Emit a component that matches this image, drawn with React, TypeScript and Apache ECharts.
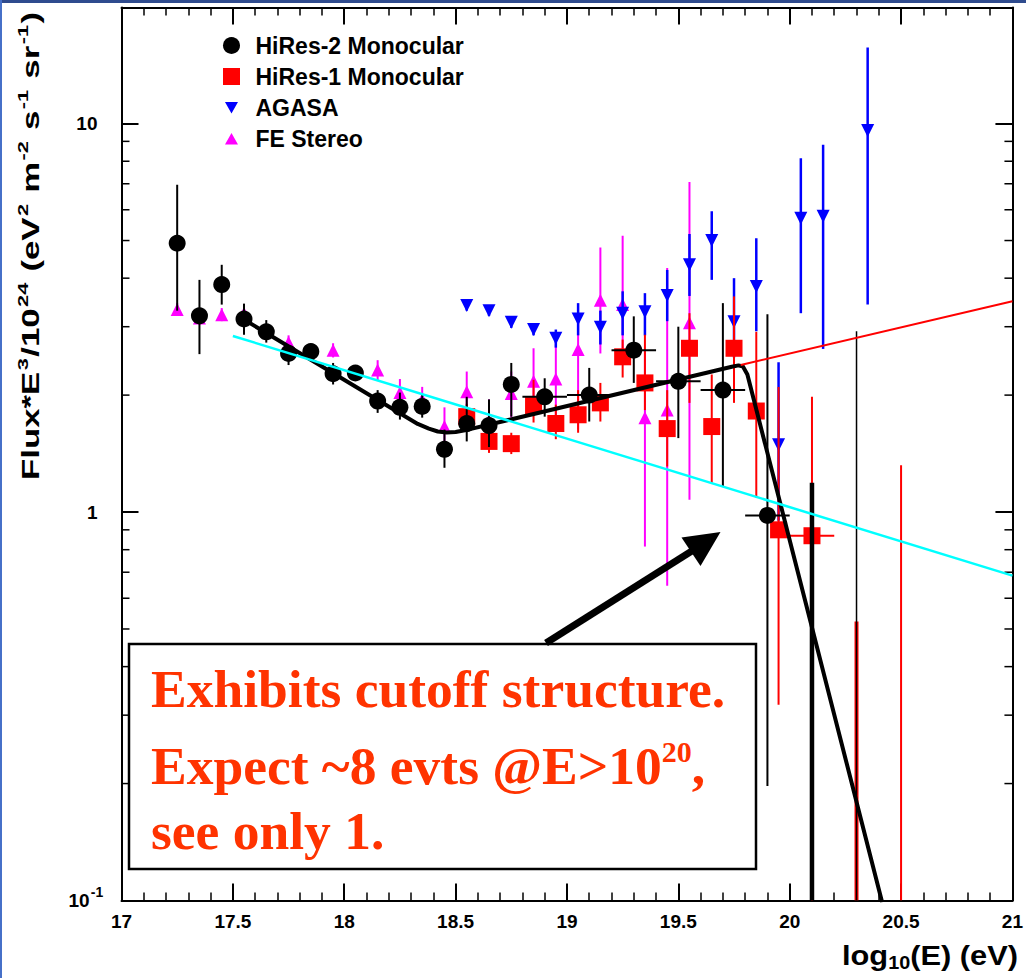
import React, { useEffect, useRef } from "react";
import * as echarts from "echarts";

// ---- data: [log10(E), flux, lowEdge, highEdge, (binLow, binHigh)] ----
const hires2Points: number[][] = [
  [17.25, 4.92, 3.3, 6.96],
  [17.35, 3.2, 2.55, 3.96],
  [17.45, 3.85, 3.42, 4.33],
  [17.55, 3.14, 2.86, 3.44],
  [17.65, 2.91, 2.73, 3.12],
  [17.75, 2.56, 2.39, 2.68],
  [17.85, 2.59, 2.5, 2.68],
  [17.95, 2.27, 2.13, 2.42],
  [18.05, 2.28, 2.19, 2.38],
  [18.15, 1.93, 1.8, 2.06],
  [18.25, 1.86, 1.73, 2.03],
  [18.35, 1.87, 1.75, 2.0],
  [18.45, 1.45, 1.3, 1.63],
  [18.55, 1.69, 1.52, 1.98],
  [18.65, 1.67, 1.47, 1.95],
  [18.75, 2.13, 1.76, 2.42],
  [18.9, 1.98, 1.76, 2.21, 18.8, 19.0],
  [19.1, 2.0, 1.71, 2.35, 19.0, 19.2],
  [19.3, 2.61, 2.15, 3.19, 19.2, 19.4],
  [19.5, 2.17, 1.55, 3.0, 19.4, 19.6],
  [19.7, 2.06, 1.16, 3.45, 19.6, 19.8],
  [19.9, 0.98, 0.197, 3.23, 19.8, 20.0],
];
// bins without a visible marker: [log10(E), highEdge]
const hires2Bars: number[][] = [
  [20.1, 1.19],
  [20.3, 2.92],
];

const hires1Points: number[][] = [
  [18.55, 1.76, 1.64, 1.9],
  [18.65, 1.52, 1.42, 1.6],
  [18.75, 1.5, 1.41, 1.6],
  [18.85, 1.88, 1.7, 2.19],
  [18.95, 1.69, 1.54, 1.89],
  [19.05, 1.78, 1.6, 2.06],
  [19.15, 1.91, 1.71, 2.15],
  [19.25, 2.51, 2.22, 2.78],
  [19.35, 2.15, 1.83, 2.86],
  [19.45, 1.64, 1.31, 2.06],
  [19.55, 2.64, 1.91, 3.25],
  [19.65, 1.66, 1.19, 2.26],
  [19.75, 2.64, 1.91, 3.59],
  [19.85, 1.82, 1.09, 2.91],
  [19.95, 0.9, 0.319, 2.1],
  [20.1, 0.869, 0.1, 1.98, 20.0, 20.2],
];
const hires1Bars: number[][] = [
  [20.3, 0.523],
  [20.5, 1.32],
];

const agasaPoints: number[][] = [
  [18.55, 3.4, 3.3, 3.5],
  [18.65, 3.3, 3.2, 3.4],
  [18.75, 3.08, 2.98, 3.18],
  [18.85, 2.95, 2.85, 3.05],
  [18.95, 2.8, 2.65, 2.95],
  [19.05, 3.14, 2.85, 3.45],
  [19.15, 2.99, 2.7, 3.3],
  [19.25, 3.25, 2.85, 3.7],
  [19.35, 3.28, 2.85, 3.66],
  [19.45, 3.61, 3.1, 4.2],
  [19.55, 4.33, 3.6, 5.2],
  [19.65, 5.0, 3.96, 5.95],
  [19.75, 3.09, 2.5, 4.0],
  [19.85, 3.81, 2.92, 5.07],
  [19.95, 1.49, 0.95, 2.43],
  [20.05, 5.71, 3.25, 8.14],
  [20.15, 5.77, 2.63, 8.82],
  [20.35, 9.6, 3.42, 15.7],
];

const fePoints: number[][] = [
  [17.25, 3.32, 3.2, 3.45],
  [17.35, 3.16, 3.04, 3.28],
  [17.45, 3.22, 3.1, 3.35],
  [17.55, 3.25, 3.12, 3.38],
  [17.75, 2.73, 2.62, 2.85],
  [17.95, 2.61, 2.5, 2.72],
  [18.15, 2.32, 2.18, 2.46],
  [18.25, 2.03, 1.88, 2.2],
  [18.35, 1.95, 1.8, 2.1],
  [18.45, 1.66, 1.45, 1.86],
  [18.55, 2.04, 1.8, 2.3],
  [18.65, 1.72, 1.5, 1.95],
  [18.75, 2.02, 1.75, 2.3],
  [18.85, 2.17, 1.91, 2.64],
  [18.95, 2.2, 1.66, 2.86],
  [19.05, 2.62, 1.63, 3.17],
  [19.15, 3.51, 2.56, 4.8],
  [19.25, 3.42, 2.6, 5.14],
  [19.35, 1.75, 0.815, 2.6],
  [19.45, 1.83, 0.646, 4.25],
  [19.55, 3.07, 1.075, 7.07],
];

// fitted curves: [log10(E), flux]
const fitBrokenPowerLaw: number[][] = [
  [17.55, 3.13], [18.33, 1.686], [18.38, 1.64], [18.42, 1.612], [18.46, 1.603],
  [18.5, 1.608], [18.56, 1.632], [19.74, 2.366], [19.77, 2.385], [19.79, 2.37],
  [19.81, 2.26], [20.415, 0.099],
];
const fitSinglePowerLaw: number[][] = [[17.5, 2.84], [21, 0.686]];
const fitExtrapolation: number[][] = [[19.78, 2.39], [21, 3.49]];

const legendNames = ["HiRes-2 Monocular", "HiRes-1 Monocular", "AGASA", "FE Stereo"];
const xRange = [17, 21];
const yRange = [0.1, 19.9];
const yMinorMultipliers = [2, 3, 4, 5, 6, 7, 8, 9];
const yDecades = [-1, 0, 1];

const SANS = "'Liberation Sans', Arial, sans-serif";
const SERIF = "'Liberation Serif', 'Times New Roman', serif";
const ANNOT = "#ff3300";

const squareIcon = "path://M0,0 L17,0 L17,17 L0,17 Z";
const downIcon = "path://M0,0h0.01v0.01z M17,17h0.01v0.01z M2,3 L15,3 L8.5,14.5 Z";
const upIcon = "path://M0,0h0.01v0.01z M17,17h0.01v0.01z M2,14.5 L15,14.5 L8.5,3 Z";

function withBins(rows: number[][]) {
  return rows.map((r) => [r[0], r[1], r[2], r[3], r.length > 4 ? r[4] : r[0], r.length > 5 ? r[5] : r[0]]);
}

function errRender(color: string, width: number) {
  return (params: any, api: any) => {
    const x = api.value(0), y = api.value(1), lo = api.value(2), hi = api.value(3);
    const xl = api.value(4), xh = api.value(5);
    const a = api.coord([x, lo]);
    const b = api.coord([x, hi]);
    const children: any[] = [
      { type: "line", shape: { x1: a[0], y1: a[1], x2: b[0], y2: b[1] }, style: { stroke: color, lineWidth: width } },
    ];
    if (xh > xl) {
      const c = api.coord([xl, y]);
      const d = api.coord([xh, y]);
      children.push({ type: "line", shape: { x1: c[0], y1: c[1], x2: d[0], y2: d[1] }, style: { stroke: color, lineWidth: width } });
    }
    return { type: "group", children };
  };
}

function barOnlyRender(color: string, widthFor: (i: number) => number) {
  return (params: any, api: any) => {
    const x = api.value(0), hi = api.value(1);
    const a = api.coord([x, yRange[0]]);
    const b = api.coord([x, hi]);
    return {
      type: "line",
      shape: { x1: a[0], y1: a[1], x2: b[0], y2: b[1] },
      style: { stroke: color, lineWidth: widthFor(params.dataIndex) },
    };
  };
}

function errSeries(name: string, rows: number[][], color: string, width: number, z: number) {
  return {
    type: "custom",
    name,
    data: withBins(rows),
    encode: { x: 0, y: 1 },
    renderItem: errRender(color, width),
    clip: true,
    z,
    silent: true,
  };
}

function markerSeries(name: string, rows: number[][], color: string, symbol: string, size: number, z: number, rotate = 0) {
  return {
    type: "scatter",
    name,
    data: rows.map((r) => [r[0], r[1]]),
    symbol,
    symbolSize: size,
    symbolRotate: rotate,
    itemStyle: { color, opacity: 1 },
    z,
    silent: true,
  };
}

const minorTickData: number[][] = [];
yDecades.forEach((k) =>
  yMinorMultipliers.forEach((m) => {
    const v = m * Math.pow(10, k);
    if (v < yRange[1]) minorTickData.push([xRange[0], v]);
  })
);

function buildOption(): any {
  const axisLineStyle = { color: "#000", width: 2 };
  const xBase = {
    type: "value",
    min: xRange[0],
    max: xRange[1],
    interval: 0.5,
    axisLine: { show: true, onZero: false, lineStyle: axisLineStyle },
    axisTick: { show: true, inside: true, length: 17, lineStyle: { color: "#000", width: 2 } },
    minorTick: { show: true, splitNumber: 5, length: 8, lineStyle: { color: "#000", width: 1.5 } },
    splitLine: { show: false },
  };
  const yBase = {
    type: "log",
    logBase: 10,
    min: yRange[0],
    max: yRange[1],
    axisLine: { show: true, onZero: false, lineStyle: axisLineStyle },
    axisTick: { show: true, inside: true, length: 17, lineStyle: { color: "#000", width: 2 } },
    splitLine: { show: false },
  };
  return {
    animation: false,
    backgroundColor: "#ffffff",
    grid: { left: 121.5, right: 13.5, top: 7.5, bottom: 77.5, containLabel: false },
    legend: {
      orient: "vertical",
      left: 223,
      top: 34,
      padding: 0,
      itemWidth: 38,
      itemHeight: 17,
      itemGap: 8,
      selectedMode: false,
      textStyle: { fontSize: 23, fontWeight: "bold", fontFamily: SANS, color: "#000" },
      data: [
        { name: legendNames[0], icon: "circle" },
        { name: legendNames[1], icon: squareIcon },
        { name: legendNames[2], icon: downIcon },
        { name: legendNames[3], icon: upIcon },
      ],
    },
    xAxis: [
      {
        ...xBase,
        position: "bottom",
        axisLabel: {
          show: true,
          interval: 0,
          margin: 11,
          fontSize: 19,
          fontWeight: "bold",
          fontFamily: SANS,
          color: "#000",
          showMinLabel: true,
          showMaxLabel: true,
        },
      },
      { ...xBase, position: "top", axisLabel: { show: false } },
    ],
    yAxis: [
      {
        ...yBase,
        position: "left",
        axisLabel: {
          show: true,
          margin: 24,
          showMaxLabel: false,
          color: "#000",
          fontSize: 19,
          fontWeight: "bold",
          fontFamily: SANS,
          formatter: (v: number) => {
            const e = Math.round(Math.log10(v));
            if (e < 0) return "{b|10}{s|" + e + "}";
            return "{b|" + Math.round(v) + "}";
          },
          rich: {
            b: { fontSize: 19, fontWeight: "bold", fontFamily: SANS, color: "#000" },
            s: {
              fontSize: 14,
              fontWeight: "bold",
              fontFamily: SANS,
              color: "#000",
              width: 1,
              align: "left",
              padding: [0, 0, 18, 7],
            },
          },
        },
      },
      { ...yBase, position: "right", axisLabel: { show: false } },
    ],
    series: [
      {
        type: "custom",
        name: "y minor ticks",
        data: minorTickData,
        encode: { x: 0, y: 1 },
        silent: true,
        z: 1,
        renderItem: (params: any, api: any) => {
          const v = api.value(1);
          const l = api.coord([xRange[0], v]);
          const r = api.coord([xRange[1], v]);
          return {
            type: "group",
            children: [
              { type: "line", shape: { x1: l[0], y1: l[1], x2: l[0] + 8, y2: l[1] }, style: { stroke: "#000", lineWidth: 1.5 } },
              { type: "line", shape: { x1: r[0] - 8, y1: r[1], x2: r[0], y2: r[1] }, style: { stroke: "#000", lineWidth: 1.5 } },
            ],
          };
        },
      },
      errSeries("FE err", fePoints, "#ff00ff", 2, 2),
      markerSeries(legendNames[3], fePoints, "#ff00ff", "triangle", 13, 3),
      errSeries("AGASA err", agasaPoints, "#0000ff", 2.5, 4),
      markerSeries(legendNames[2], agasaPoints, "#0000ff", "triangle", 13, 5, 180),
      errSeries("HiRes-1 err", hires1Points, "#ff0000", 2, 6),
      {
        type: "custom",
        name: "HiRes-1 bars",
        data: hires1Bars,
        encode: { x: 0, y: 1 },
        renderItem: barOnlyRender("#ff0000", (i) => (i === 0 ? 4 : 2)),
        clip: true,
        z: 6,
        silent: true,
      },
      markerSeries(legendNames[1], hires1Points, "#ff0000", "rect", 17, 7),
      errSeries("HiRes-2 err", hires2Points, "#000000", 2, 8),
      {
        type: "custom",
        name: "HiRes-2 bars",
        data: hires2Bars,
        encode: { x: 0, y: 1 },
        renderItem: barOnlyRender("#000000", (i) => (i === 0 ? 4.5 : 1.5)),
        clip: true,
        z: 8,
        silent: true,
      },
      markerSeries(legendNames[0], hires2Points, "#000000", "circle", 17, 9),
      {
        type: "line",
        name: "fit broken",
        data: fitBrokenPowerLaw,
        showSymbol: false,
        symbol: "none",
        lineStyle: { color: "#000", width: 4, join: "round" },
        clip: true,
        z: 10,
        silent: true,
      },
      {
        type: "line",
        name: "fit single",
        data: fitSinglePowerLaw,
        symbol: "none",
        lineStyle: { color: "#00ffff", width: 2.5 },
        z: 11,
        silent: true,
      },
      {
        type: "line",
        name: "fit extrap",
        data: fitExtrapolation,
        symbol: "none",
        lineStyle: { color: "#ff0000", width: 2 },
        z: 11,
        silent: true,
      },
    ],
    graphic: [
      { type: "rect", shape: { x: 0, y: 0, width: 1026, height: 3 }, style: { fill: "#2f4b8e" }, z: 100 },
      { type: "rect", shape: { x: 0, y: 0, width: 2, height: 978 }, style: { fill: "#4670c8" }, z: 100 },
      {
        type: "text",
        x: 31,
        y: 246,
        rotation: Math.PI / 2,
        scaleX: 1.45,
        z: 100,
        style: {
          text: "{n|Flux*E}{s|3}{n|/10}{s|24}{n| (eV}{s|2}{n| m}{s|-2}{n| s}{s|-1}{n| sr}{s|-1}{n|)}",
          align: "center",
          verticalAlign: "middle",
          fill: "#000",
          rich: {
            n: { fontSize: 24, fontWeight: "bold", fontFamily: SANS, fill: "#000" },
            s: { fontSize: 15, fontWeight: "bold", fontFamily: SANS, fill: "#000", padding: [0, 1, 16, 1] },
          },
        },
      },
      {
        type: "text",
        x: 1018,
        y: 955,
        scaleX: 1.1,
        z: 100,
        style: {
          text: "{n|log}{u|10}{n|(E) (eV)}",
          align: "right",
          verticalAlign: "middle",
          fill: "#000",
          rich: {
            n: { fontSize: 28, fontWeight: "bold", fontFamily: SANS, fill: "#000" },
            u: { fontSize: 18, fontWeight: "bold", fontFamily: SANS, fill: "#000", padding: [15, 0, 0, 0] },
          },
        },
      },
      {
        type: "rect",
        z: 100,
        shape: { x: 129, y: 644, width: 627, height: 225 },
        style: { fill: "#fff", stroke: "#000", lineWidth: 2.5 },
      },
      {
        type: "text",
        x: 151,
        y: 689,
        z: 101,
        style: { text: "Exhibits cutoff structure.", font: "bold 53.5px " + SERIF, fill: ANNOT, align: "left", verticalAlign: "middle" },
      },
      {
        type: "text",
        x: 151,
        y: 766,
        z: 101,
        style: {
          text: "{t|Expect ~8 evts @E>10}{s|20}{t|,}",
          align: "left",
          verticalAlign: "middle",
          fill: ANNOT,
          rich: {
            t: { fontSize: 53.5, fontWeight: "bold", fontFamily: SERIF, fill: ANNOT },
            s: { fontSize: 30, fontWeight: "bold", fontFamily: SERIF, fill: ANNOT, padding: [0, 0, 30, 0] },
          },
        },
      },
      {
        type: "text",
        x: 151,
        y: 831,
        z: 101,
        style: { text: "see only 1.", font: "bold 53.5px " + SERIF, fill: ANNOT, align: "left", verticalAlign: "middle" },
      },
      {
        type: "line",
        z: 101,
        shape: { x1: 546, y1: 643, x2: 695, y2: 549 },
        style: { stroke: "#000", lineWidth: 7 },
      },
      {
        type: "polygon",
        z: 101,
        shape: { points: [[720.5, 532], [681.5, 537.5], [700.5, 566]] },
        style: { fill: "#000" },
      },
    ],
  };
}

export default function App() {
  const ref = useRef<HTMLDivElement>(null);
  useEffect(() => {
    if (!ref.current) return;
    const chart = echarts.init(ref.current, null, { renderer: "svg" });
    chart.setOption(buildOption());
    return () => chart.dispose();
  }, []);
  return (
    <div
      ref={ref}
      style={{ position: "fixed", left: 0, top: 0, width: 1026, height: 978, background: "#fff" }}
    />
  );
}
